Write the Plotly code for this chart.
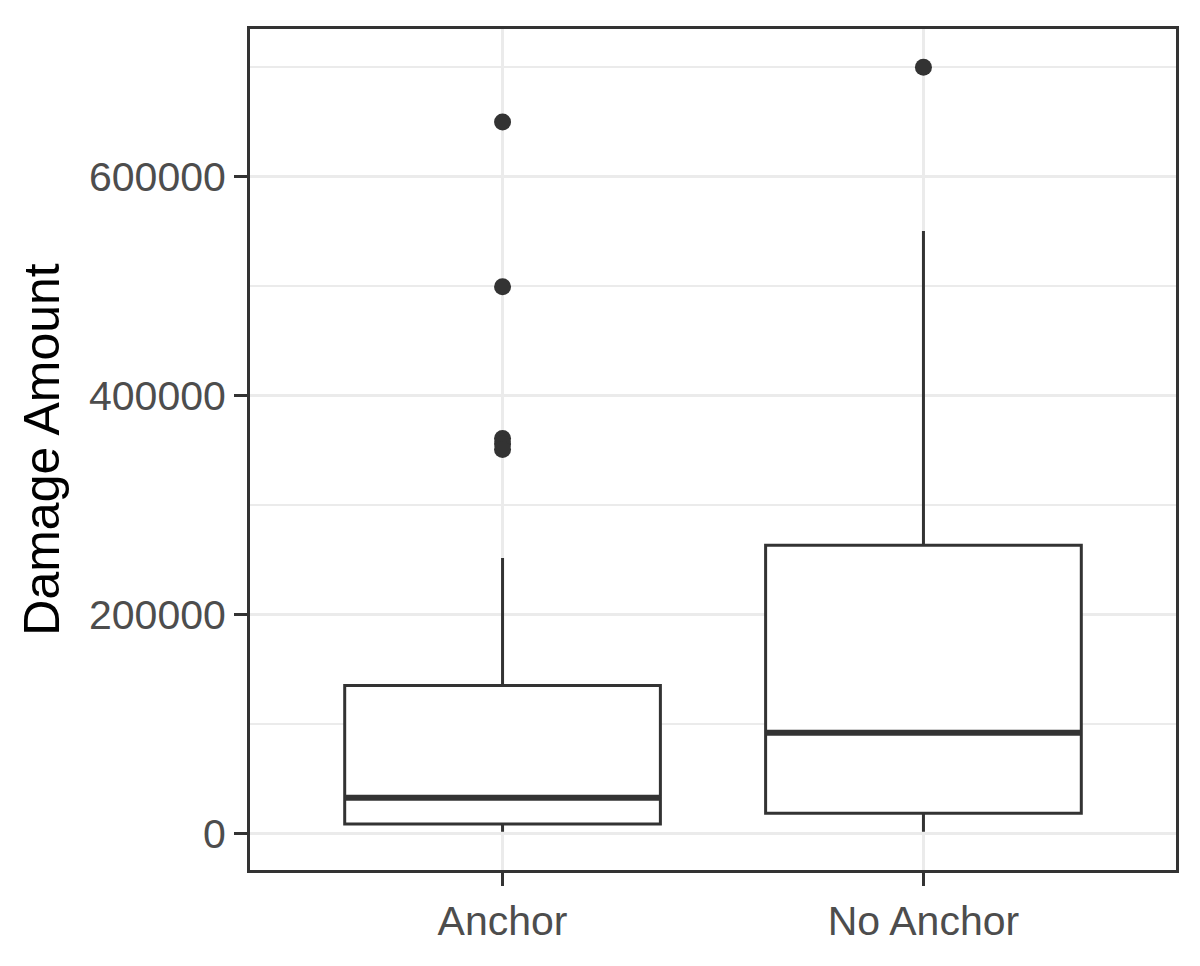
import plotly.graph_objects as go

# ---- data ----
categories = ["Anchor", "No Anchor"]
q1 = [9000, 19000]
median = [33000, 92500]
q3 = [135500, 263500]
lower_whisker = [2000, 2000]
upper_whisker = [252000, 550500]
outliers = {
    "Anchor": [650000, 499500, 361000, 356000, 351000],
    "No Anchor": [700000],
}
y_tickvals = [0, 200000, 400000, 600000]
y_minorvals = [100000, 300000, 500000, 700000]

# ---- style ----
INK = "#333333"
GRID = "#EBEBEB"
BOX_W = 0.75
FONT = "Liberation Sans, Arial, sans-serif"

pos = list(range(len(categories)))

fig = go.Figure()

fig.add_trace(go.Box(
    x=pos, q1=q1, median=median, q3=q3,
    lowerfence=lower_whisker, upperfence=upper_whisker,
    width=BOX_W, whiskerwidth=0,
    fillcolor="white", line=dict(color=INK, width=3),
    boxpoints=False, showlegend=False, hoverinfo="skip",
))

# thick median lines (ggplot style)
for i, m in zip(pos, median):
    fig.add_trace(go.Scatter(
        x=[i - BOX_W / 2, i + BOX_W / 2], y=[m, m], mode="lines",
        line=dict(color=INK, width=6), showlegend=False, hoverinfo="skip",
    ))

# outliers
for i, c in zip(pos, categories):
    pts = outliers[c]
    fig.add_trace(go.Scatter(
        x=[i] * len(pts), y=pts, mode="markers",
        marker=dict(color=INK, size=17, line=dict(width=0)),
        showlegend=False, hoverinfo="skip",
    ))

data_min = min(lower_whisker)
data_max = max(max(v) for v in outliers.values())
span = data_max - data_min

fig.update_layout(
    width=1192, height=958,
    margin=dict(l=242, r=24, t=21, b=96),
    paper_bgcolor="white", plot_bgcolor="white",
    font=dict(family=FONT, color="#4D4D4D", size=41),
    boxmode="overlay",
)

fig.update_xaxes(
    range=[-0.6, len(categories) - 1 + 0.6],
    tickmode="array", tickvals=pos, ticktext=categories,
    showgrid=True, gridcolor=GRID, gridwidth=2.5,
    zeroline=False,
    showline=True, mirror=True, linecolor=INK, linewidth=3,
    ticks="outside", ticklen=13, tickwidth=3, tickcolor=INK,
    tickfont=dict(size=41, color="#4D4D4D", family=FONT),
)

fig.update_yaxes(
    range=[data_min - 0.05 * span, data_max + 0.05 * span],
    tickmode="array", tickvals=y_tickvals, ticktext=[str(v) for v in y_tickvals],
    showgrid=True, gridcolor=GRID, gridwidth=2.5,
    minor=dict(tickmode="array", tickvals=y_minorvals, showgrid=True,
               gridcolor=GRID, gridwidth=2, ticks=""),
    zeroline=False,
    showline=True, mirror=True, linecolor=INK, linewidth=3,
    ticks="outside", ticklen=13, tickwidth=3, tickcolor=INK,
    tickfont=dict(size=41, color="#4D4D4D", family=FONT),
    title=dict(text="Damage Amount", font=dict(size=50, color="black", family=FONT),
               standoff=14),
)

fig.write_html("out.html")
